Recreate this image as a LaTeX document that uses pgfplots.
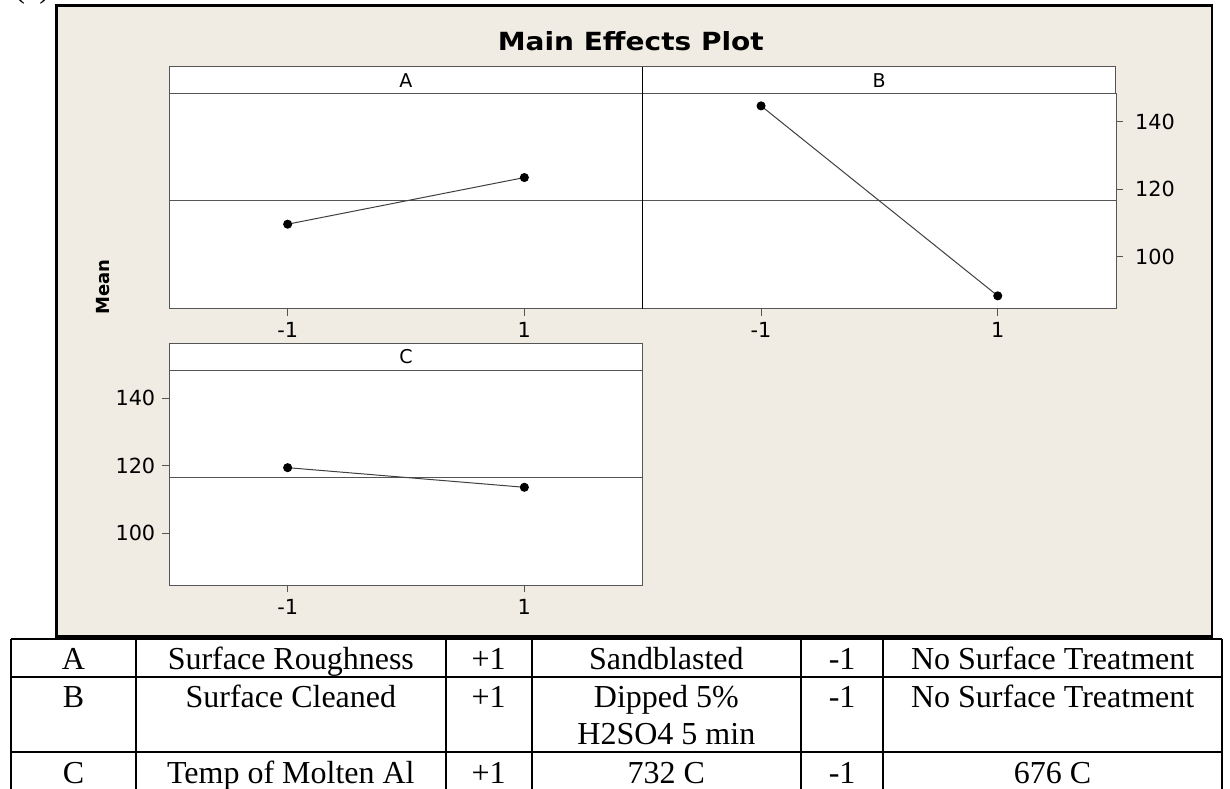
\documentclass[border=0pt]{standalone}
\usepackage{fontspec}
\setmainfont{DejaVu Sans}
\newfontfamily\tnr{Liberation Serif}
\usepackage{graphicx}
\usepackage{pgfplots}
\pgfplotsset{compat=1.18}
\definecolor{bgc}{RGB}{240,236,227}
\definecolor{axc}{RGB}{85,85,85}

\pgfplotsset{
 mep/.style={
  scale only axis, width=236.7pt, height=107.5pt,
  xmin=-2, xmax=2, ymin=84.6, ymax=148.2,
  axis background/.style={fill=white},
  axis line style={draw=axc, line width=0.6pt},
  xtick={-1,1}, xticklabels={-1,1},
  tick align=outside, major tick length=3.5pt,
  tick style={draw=axc, line width=0.5pt},
  xtick pos=left,
  ytick=\empty,
  ticklabel style={font=\fontsize{10.4}{12}\selectfont},
  /pgf/number format/assume math mode=true,
  clip=false,
 },
 meanline/.style={axc, line width=0.6pt, forget plot},
 effect/.style={black!75, line width=0.5pt, mark=*, mark size=2pt,
   mark options={fill=black, draw=black, solid}},
}

\begin{document}
\begin{tikzpicture}
\useasboundingbox (0,0) rectangle (615pt,-394pt);

\begin{scope}[x=0.5pt,y=-0.5pt]
 \fill[bgc] (56.7,5.7) rectangle (1212,636.7);
 \node[anchor=base west, font=\tnr\fontsize{16}{18}\selectfont, inner sep=0] at (14,-3) {(a)};
 \node[anchor=base, font=\bfseries\fontsize{12.5}{14}\selectfont, inner sep=0] at (630.8,50) {\scalebox{1.12}[1]{Main Effects Plot}};
 \node[rotate=90, font=\bfseries\fontsize{9}{11}\selectfont, inner sep=0] at (103,287) {Mean};
\end{scope}

% Panel A
\begin{axis}[mep, at={(84.65pt,-154.35pt)}, anchor=south west]
 \addplot[meanline] coordinates {(-2,116.5) (2,116.5)};
 \addplot[effect] coordinates {(-1,109.6) (1,123.4)};
\end{axis}

% Panel B
\begin{axis}[mep, at={(321.35pt,-154.35pt)}, anchor=south west,
  ytick={100,120,140}, ytick pos=right, yticklabel pos=right,
  yticklabel style={xshift=2.5pt}]
 \addplot[meanline] coordinates {(-2,116.5) (2,116.5)};
 \addplot[effect] coordinates {(-1,144.6) (1,88.4)};
\end{axis}

% Panel C
\begin{axis}[mep, at={(84.65pt,-292.65pt)}, anchor=south west,
  ytick={100,120,140}, ytick pos=left]
 \addplot[meanline] coordinates {(-2,116.5) (2,116.5)};
 \addplot[effect] coordinates {(-1,119.4) (1,113.6)};
\end{axis}

\begin{scope}[x=0.5pt,y=-0.5pt]
 % strips
 \draw[axc, fill=white, line width=0.6pt] (169.3,66.7) rectangle (642.7,93.7);
 \draw[axc, fill=white, line width=0.6pt] (642.7,66.7) rectangle (1115.7,93.7);
 \draw[axc, fill=white, line width=0.6pt] (169.3,343.3) rectangle (642.7,370.3);
 \draw[black, line width=0.6pt] (642.7,66.7) -- (642.7,308.7);
 \node[font=\fontsize{9.5}{11}\selectfont] at (405.9,80.2) {A};
 \node[font=\fontsize{9.5}{11}\selectfont] at (879.2,80.2) {B};
 \node[font=\fontsize{9.5}{11}\selectfont] at (405.9,356.8) {C};
 % frame border
 \draw[black, line width=1.3pt] (56.7,5.7) rectangle (1212,636.7);
 % table
 \begin{scope}[line width=1pt]
  \draw (11,639) -- (1222,639);
  \draw (11,676.7) -- (1222,676.7);
  \draw (11,751.7) -- (1222,751.7);
  \foreach \cx in {11,136,445.7,531.7,801,883.3,1222} {\draw (\cx,639) -- (\cx,800);}
 \end{scope}
 \begin{scope}[every node/.style={anchor=base, inner sep=0, font=\tnr\fontsize{16}{18.4}\selectfont}]
  \node at (73.5,669.3) {A};
  \node at (290.85,669.3) {Surface Roughness};
  \node at (488.7,669.3) {+1};
  \node at (666.35,669.3) {Sandblasted};
  \node at (842.15,669.3) {-1};
  \node at (1052.65,669.3) {No Surface Treatment};
  \node at (73.5,707.3) {B};
  \node at (290.85,707.3) {Surface Cleaned};
  \node at (488.7,707.3) {+1};
  \node at (666.35,707.3) {Dipped 5\%};
  \node at (666.35,744) {H2SO4 5 min};
  \node at (842.15,707.3) {-1};
  \node at (1052.65,707.3) {No Surface Treatment};
  \node at (73.5,783.3) {C};
  \node at (290.85,783.3) {Temp of Molten Al};
  \node at (488.7,783.3) {+1};
  \node at (666.35,783.3) {732 C};
  \node at (842.15,783.3) {-1};
  \node at (1052.65,783.3) {676 C};
 \end{scope}
\end{scope}
\end{tikzpicture}
\end{document}
